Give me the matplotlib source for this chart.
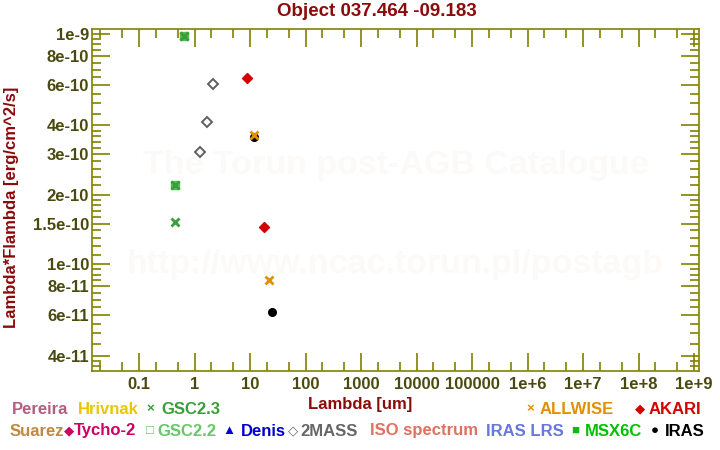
import matplotlib
matplotlib.use('Agg')
import matplotlib.pyplot as plt

plt.rcParams['font.family'] = ['Liberation Sans', 'DejaVu Sans']
plt.rcParams['font.weight'] = 'bold'

# photometry points (lambda [um], lambda*F_lambda [erg/cm^2/s])
gsc23_x = [0.65, 0.45, 0.45]
gsc23_y = [9.8e-10, 2.21e-10, 1.52e-10]
gsc22_x = [0.65, 0.45]
gsc22_y = [9.8e-10, 2.21e-10]
mass2_x = [1.25, 1.65, 2.17]
mass2_y = [3.07e-10, 4.14e-10, 6.06e-10]
akari_x = [9.0, 18.0]
akari_y = [6.44e-10, 1.45e-10]
allwise_x = [11.6, 22.1]
allwise_y = [3.64e-10, 8.52e-11]
iras_x = [12.0, 25.0]
iras_y = [3.56e-10, 6.18e-11]

xticks = [0.1, 1, 10, 100, 1000, 1e4, 1e5, 1e6, 1e7, 1e8, 1e9]
xticklabels = ['0.1', '1', '10', '100', '1000', '10000', '100000',
               '1e+6', '1e+7', '1e+8', '1e+9']
yticks = [1e-9, 8e-10, 6e-10, 4e-10, 3e-10, 2e-10, 1.5e-10, 1e-10,
          8e-11, 6e-11, 4e-11]
yticklabels = ['1e-9', '8e-10', '6e-10', '4e-10', '3e-10', '2e-10',
               '1.5e-10', '1e-10', '8e-11', '6e-11', '4e-11']
yminor = [9.5e-10, 9e-10, 8.5e-10, 7.5e-10, 7e-10, 6.5e-10, 5.5e-10, 5e-10,
          4.5e-10, 3.8e-10, 3.6e-10, 3.4e-10, 3.2e-10, 2.8e-10, 2.6e-10,
          2.4e-10, 2.2e-10, 1.9e-10, 1.8e-10, 1.7e-10, 1.6e-10, 1.4e-10,
          1.3e-10, 1.2e-10, 1.1e-10, 9.5e-11, 9e-11, 8.5e-11, 7.5e-11,
          7e-11, 6.5e-11, 5.5e-11, 5e-11, 4.5e-11, 3.8e-11, 3.6e-11]
xminor = [m * 10.0**e for e in range(-2, 9) for m in (2, 5)]

# legend entries: (glyph x, glyph, text x, text, colour)
legend_row1 = [(None, '', 12, 'Pereira', '#b0607e'),
               (None, '', 78, 'Hrivnak', '#e8c800'),
               (150, '×', 161, 'GSC2.3', '#3a9e3a'),
               (530, '×', 540, 'ALLWISE', '#e09000'),
               (640, '◆', 649, 'AKARI', '#d40000')]
legend_row2 = [(None, '', 10, 'Suarez', '#c08840'),
               (69, '◆', 74, 'Tycho-2', '#cc0066'),
               (150, '□', 157, 'GSC2.2', '#66c866'),
               (229, '▲', 241, 'Denis', '#0000cc'),
               (293, '◇', 300, '2MASS', '#666666'),
               (None, '', 370, 'ISO spectrum', '#e07060'),
               (None, '', 486, 'IRAS LRS', '#6677dd'),
               (575, '■', 585, 'MSX6C', '#00c000'),
               (655, '●', 665, 'IRAS', 'black')]

olive = '#808000'
ticklab = '#4a4a10'
darkred = '#8b0a0a'
fs = 12

fig = plt.figure(figsize=(7.2, 4.5), dpi=100)
ax = fig.add_axes([92/720, 1-371/450, 607/720, 342/450])
ax.set_xscale('log')
ax.set_yscale('log')
ax.set_xlim(0.0142, 1.23e9)
ax.set_ylim(3.43e-11, 1.05e-9)

# watermark
ax.text(0.5, 0.6, 'The Torun post-AGB Catalogue', transform=ax.transAxes,
        ha='center', va='center', fontsize=24.5, color='#fcfaf8', zorder=0)
ax.text(0.5, 0.31, 'http://www.ncac.torun.pl/postagb', transform=ax.transAxes,
        ha='center', va='center', fontsize=24.5, color='#fcfaf8', zorder=0)

ax.plot(gsc22_x, gsc22_y, 's', ms=6, color='#55bb55', mec='#55bb55', ls='none')
ax.plot(gsc23_x, gsc23_y, 'x', ms=5.5, mew=2, color='#3a9e3a', ls='none')
ax.plot(mass2_x, mass2_y, 'D', ms=5, mfc='white', mec='#606060', mew=1.4, ls='none')
ax.plot(akari_x, akari_y, 'D', ms=5.5, color='#d40000', ls='none')
ax.plot(iras_x, iras_y, 'o', ms=5.5, color='black', ls='none')
ax.plot(allwise_x, allwise_y, 'x', ms=5.5, mew=2, color='#e09000', ls='none')

ax.set_xticks(xticks)
ax.set_xticklabels(xticklabels)
ax.set_xticks(xminor, minor=True)
ax.set_xticklabels([], minor=True)
ax.set_yticks(yticks)
ax.set_yticklabels(yticklabels)
ax.set_yticks(yminor, minor=True)
ax.set_yticklabels([], minor=True)

ax.tick_params(which='both', direction='in', top=True, right=True,
               color=olive, width=1.2, labelsize=fs, labelcolor=ticklab)
ax.tick_params(which='major', length=13)
ax.tick_params(which='minor', length=6.5)
ax.tick_params(axis='x', pad=4)
ax.tick_params(axis='y', pad=2)
for s in ax.spines.values():
    s.set_color(olive)
    s.set_linewidth(1.2)

fig.text(377/720, 1-12/450, 'Object 037.464 -09.183', ha='center', va='center',
         fontsize=13.5, color=darkred)
fig.text(360/720, 1-404/450, 'Lambda [um]', ha='center', va='center',
         fontsize=fs, color=darkred)
fig.text(12/720, 1-207/450, 'Lambda*Flambda [erg/cm^2/s]', ha='center',
         va='center', rotation=90, fontsize=fs, color=darkred)

for ypix, row in ((409, legend_row1), (431, legend_row2)):
    for gx, g, tx, t, c in row:
        if gx is not None:
            fig.text(gx/720, 1-ypix/450, g, ha='center', va='center',
                     fontsize=9.5, color=c)
        fig.text(tx/720, 1-ypix/450, t, ha='left', va='center',
                 fontsize=fs, color=c)

fig.savefig('out.png', dpi=100)
